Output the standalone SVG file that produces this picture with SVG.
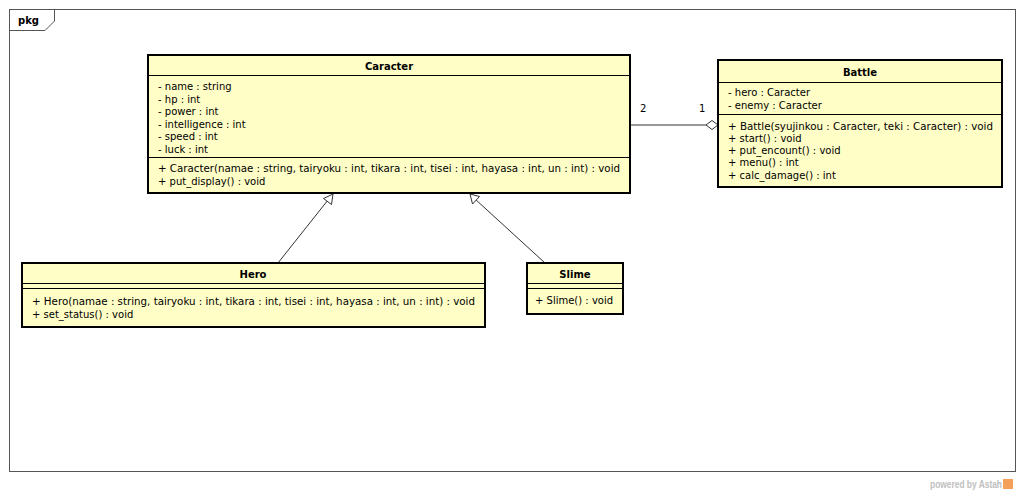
<svg xmlns="http://www.w3.org/2000/svg" width="1024" height="493" viewBox="0 0 1024 493">
<style>
.box{fill:#fffec6;stroke:#000;stroke-width:2}
.sep{stroke:#000;stroke-width:1}
.t{font-family:"DejaVu Sans","Liberation Sans",sans-serif;font-size:10px;fill:#000}
.h{font-family:"DejaVu Sans","Liberation Sans",sans-serif;font-size:10px;font-weight:bold;fill:#000;text-anchor:middle}
.ln{stroke:#333;stroke-width:1;fill:none}
</style>
<rect width="1024" height="493" fill="#fff"/>
<g id="frame">
<rect x="9.5" y="9.5" width="1006" height="462" fill="none" stroke="#555" stroke-width="1"/>
<path d="M9.5 30.5 H45 L54.5 21 V9.5" fill="none" stroke="#555" stroke-width="1"/>
<text x="18" y="24" class="t" font-weight="bold">pkg</text>
</g>
<g id="connectors">
<line class="ln" x1="630" y1="125" x2="706" y2="125"/>
<path d="M706 125 L712 120.5 L718 125 L712 129.5 Z" fill="#fff" stroke="#333" stroke-width="1"/>
<text x="640" y="112" class="t">2</text>
<text x="699" y="112" class="t">1</text>
<line class="ln" x1="278" y1="263" x2="328" y2="200"/>
<path d="M333 194 L331.5 204.5 L323.5 198.5 Z" fill="#fff" stroke="#333" stroke-width="1"/>
<line class="ln" x1="545" y1="263" x2="475" y2="199"/>
<path d="M470 194 L479.5 196.5 L472.5 204 Z" fill="#fff" stroke="#333" stroke-width="1"/>
</g>
<g id="Caracter">
<rect class="box" x="148" y="55" width="482" height="138"/>
<line class="sep" x1="148" y1="75.5" x2="630" y2="75.5"/>
<line class="sep" x1="148" y1="157.5" x2="630" y2="157.5"/>
<text class="h" x="389" y="70">Caracter</text>
<text class="t" x="158" y="90">- name : string</text>
<text class="t" x="158" y="103">- hp : int</text>
<text class="t" x="158" y="115">- power : int</text>
<text class="t" x="158" y="128">- intelligence : int</text>
<text class="t" x="158" y="140">- speed : int</text>
<text class="t" x="158" y="153">- luck : int</text>
<text class="t" x="158" y="172" textLength="462" lengthAdjust="spacingAndGlyphs">+ Caracter(namae : string, tairyoku : int, tikara : int, tisei : int, hayasa : int, un : int) : void</text>
<text class="t" x="158" y="185">+ put_display() : void</text>
</g>
<g id="Battle">
<rect class="box" x="718" y="60" width="284" height="127"/>
<line class="sep" x1="718" y1="82.5" x2="1002" y2="82.5"/>
<line class="sep" x1="718" y1="114.5" x2="1002" y2="114.5"/>
<text class="h" x="860" y="76">Battle</text>
<text class="t" x="728" y="96">- hero : Caracter</text>
<text class="t" x="728" y="109">- enemy : Caracter</text>
<text class="t" x="728" y="130" textLength="265" lengthAdjust="spacingAndGlyphs">+ Battle(syujinkou : Caracter, teki : Caracter) : void</text>
<text class="t" x="728" y="142">+ start() : void</text>
<text class="t" x="728" y="154">+ put_encount() : void</text>
<text class="t" x="728" y="166">+ menu() : int</text>
<text class="t" x="728" y="179">+ calc_damage() : int</text>
</g>
<g id="Hero">
<rect class="box" x="22" y="263" width="463" height="64"/>
<line class="sep" x1="22" y1="283.5" x2="485" y2="283.5"/>
<line class="sep" x1="22" y1="288.5" x2="485" y2="288.5"/>
<text class="h" x="253" y="278">Hero</text>
<text class="t" x="32" y="305" textLength="443" lengthAdjust="spacingAndGlyphs">+ Hero(namae : string, tairyoku : int, tikara : int, tisei : int, hayasa : int, un : int) : void</text>
<text class="t" x="32" y="318">+ set_status() : void</text>
</g>
<g id="Slime">
<rect class="box" x="527" y="263" width="96" height="51"/>
<line class="sep" x1="527" y1="283.5" x2="623" y2="283.5"/>
<line class="sep" x1="527" y1="288.5" x2="623" y2="288.5"/>
<text class="h" x="575" y="278">Slime</text>
<text class="t" x="535" y="304">+ Slime() : void</text>
</g>
<g id="footer">
<text x="930" y="488" textLength="72" lengthAdjust="spacingAndGlyphs" font-family="Liberation Sans,sans-serif" font-size="10" font-weight="bold" fill="#c0c0c0">powered by Astah</text>
<rect x="1003" y="479" width="10" height="10" fill="#f5a05a"/>
</g>
</svg>
